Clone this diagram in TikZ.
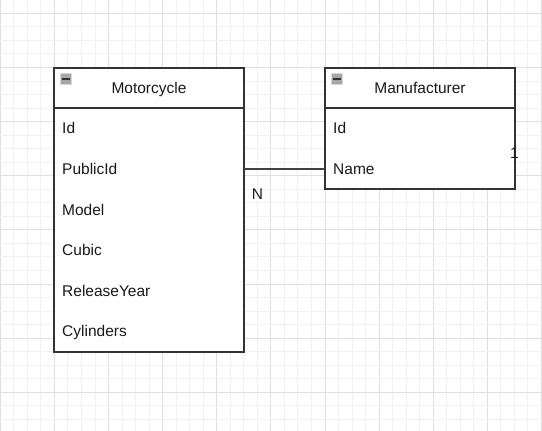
\documentclass[tikz,border=0pt]{standalone}
\usepackage{fontspec}
\setmainfont{Liberation Sans}
\begin{document}
\begin{tikzpicture}[x=1pt,y=-1pt,
  minorgrid/.style={draw=black!6,line width=0.8pt},
  majorgrid/.style={draw=black!12,line width=0.8pt},
  tbl/.style={draw=black!80,line width=1.3pt},
  hdr/.style={font=\fontsize{15.5}{17}\selectfont,text=black!90,inner sep=0pt,anchor=base},
  row/.style={font=\fontsize{15.5}{17}\selectfont,text=black!90,anchor=base west,inner sep=0pt},
  lbl/.style={font=\fontsize{15.5}{17}\selectfont,text=black!90,inner sep=0pt,anchor=base},
  conn/.style={draw=black!75,line width=1.3pt}]
\useasboundingbox (0,0) rectangle (542,431);
\fill[white] (0,0) rectangle (542,431);
% grid
\foreach \k in {0,...,40}{
  \pgfmathsetmacro{\xx}{0.2+13.53*\k}
  \pgfmathtruncatemacro{\m}{mod(\k,4)}
  \ifnum\m=0 \draw[majorgrid] (\xx,0) -- (\xx,431); \else \draw[minorgrid] (\xx,0) -- (\xx,431); \fi
}
\foreach \k in {0,...,31}{
  \pgfmathsetmacro{\yy}{13.3+13.53*\k}
  \pgfmathtruncatemacro{\m}{mod(\k,4)}
  \ifnum\m=0 \draw[majorgrid] (0,\yy) -- (542,\yy); \else \draw[minorgrid] (0,\yy) -- (542,\yy); \fi
}
% Motorcycle table
\fill[white] (54,68) rectangle (244,352);
\draw[tbl] (54,68) rectangle (244,352);
\draw[tbl] (54,108) -- (244,108);
\node[hdr] (mtitle) at (149,93.5) {Motorcycle};
\fill[black!35,draw=black!15,line width=0.6pt] (60.5,73.5) rectangle (71,84);
\draw[black!80,line width=1.5pt] (62,78.75) -- (69.5,78.75);
\node[row] (mid) at (62,133.5) {Id};
\node[row] (mpub) at (62,174.5) {PublicId};
\node[row] (mmodel) at (62,215.5) {Model};
\node[row] (mcubic) at (62,255.5) {Cubic};
\node[row] (mrel) at (62,296.5) {ReleaseYear};
\node[row] (mcyl) at (62,336.5) {Cylinders};
% Manufacturer table
\fill[white] (325,68) rectangle (515,189);
\draw[tbl] (325,68) rectangle (515,189);
\draw[tbl] (325,108) -- (515,108);
\node[hdr] (ftitle) at (420,93.5) {Manufacturer};
\fill[black!35,draw=black!15,line width=0.6pt] (331.5,73.5) rectangle (342,84);
\draw[black!80,line width=1.5pt] (333,78.75) -- (340.5,78.75);
\node[row] (fid) at (333,133.5) {Id};
\node[row] (fname) at (333,174.5) {Name};
% connector
\coordinate (cm) at (244,169);
\coordinate (cf) at (325,169);
\draw[conn] (cm) -- (cf);
\node[lbl] (nlab) at (257.5,199.5) {N};
\node[lbl] (onelab) at (514.5,158.5) {1};
\end{tikzpicture}
\end{document}
